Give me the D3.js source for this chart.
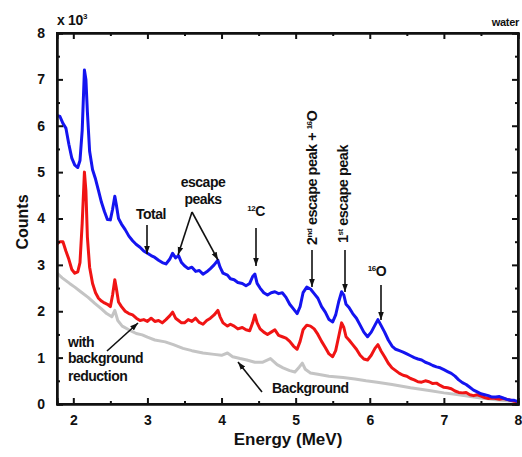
<!DOCTYPE html>
<html><head><meta charset="utf-8">
<script src="https://cdn.jsdelivr.net/npm/d3@7"></script>
<style>
html,body{margin:0;padding:0;background:#fff;}
svg text{font-family:"Liberation Sans",Arial,sans-serif;font-weight:bold;fill:#111;}
</style>
</head><body>
<svg id="chart" width="522" height="457"></svg>
<script>
// Energy (MeV) and counts (x10^3)
const totalE = [1.78,1.82,1.86,1.9,1.94,1.98,2.02,2.06,2.09,2.12,2.15,2.17,2.19,2.22,2.26,2.3,2.34,2.38,2.42,2.46,2.5,2.53,2.56,2.58,2.61,2.65,2.7,2.75,2.8,2.85,2.9,2.95,3.0,3.05,3.1,3.15,3.2,3.25,3.3,3.34,3.38,3.42,3.46,3.5,3.55,3.6,3.65,3.7,3.75,3.8,3.85,3.9,3.95,3.98,4.02,4.08,4.12,4.17,4.22,4.28,4.33,4.38,4.42,4.45,4.48,4.52,4.57,4.62,4.67,4.72,4.77,4.82,4.87,4.92,4.97,5.02,5.06,5.1,5.15,5.2,5.25,5.3,5.35,5.4,5.45,5.5,5.54,5.58,5.62,5.65,5.68,5.72,5.77,5.82,5.87,5.92,5.97,6.02,6.07,6.11,6.15,6.2,6.25,6.3,6.35,6.4,6.45,6.5,6.55,6.6,6.65,6.7,6.75,6.8,6.85,6.9,6.95,7.0,7.05,7.1,7.15,7.2,7.25,7.3,7.35,7.4,7.45,7.5,7.55,7.6,7.65,7.7,7.75,7.8,7.85,7.9,7.95,8.0];
const totalC = [6.22,6.2,6.05,5.95,5.6,5.3,5.15,5.1,5.25,5.9,7.2,7.0,6.3,5.45,5.05,4.85,4.6,4.35,4.15,3.98,3.97,4.2,4.48,4.3,4.0,3.88,3.76,3.62,3.52,3.44,3.38,3.3,3.25,3.2,3.16,3.1,3.05,3.02,3.12,3.25,3.15,3.2,3.05,2.98,2.92,2.95,2.86,2.88,2.8,2.85,2.92,3.0,3.1,2.95,2.82,2.78,2.7,2.68,2.62,2.6,2.55,2.6,2.75,2.8,2.6,2.5,2.4,2.35,2.4,2.42,2.38,2.4,2.3,2.15,2.05,1.95,2.1,2.4,2.52,2.48,2.38,2.28,2.1,1.98,1.82,1.77,1.92,2.2,2.42,2.35,2.15,2.08,1.95,1.85,1.7,1.55,1.45,1.55,1.7,1.82,1.7,1.55,1.38,1.25,1.18,1.15,1.12,1.08,1.04,1.0,0.97,0.95,0.9,0.87,0.83,0.8,0.78,0.74,0.7,0.66,0.6,0.52,0.46,0.42,0.36,0.3,0.26,0.22,0.2,0.18,0.15,0.15,0.16,0.13,0.1,0.08,0.08,0.05];
const reducedC = [3.45,3.5,3.5,3.3,3.12,2.9,2.82,2.85,3.05,3.9,5.0,4.6,3.6,2.95,2.6,2.4,2.28,2.22,2.18,2.15,2.1,2.35,2.68,2.5,2.2,2.1,2.0,1.95,1.92,1.85,1.8,1.82,1.78,1.85,1.78,1.8,1.75,1.82,1.9,1.98,1.85,1.8,1.75,1.75,1.82,1.78,1.85,1.76,1.72,1.8,1.85,1.92,2.02,1.88,1.75,1.68,1.72,1.68,1.62,1.65,1.6,1.58,1.75,1.92,1.75,1.62,1.55,1.5,1.55,1.6,1.48,1.45,1.42,1.35,1.25,1.18,1.35,1.6,1.7,1.68,1.62,1.5,1.35,1.22,1.08,1.02,1.15,1.45,1.75,1.65,1.45,1.38,1.28,1.18,1.05,0.97,0.95,1.05,1.2,1.28,1.15,1.02,0.88,0.78,0.72,0.66,0.62,0.6,0.55,0.52,0.48,0.47,0.5,0.48,0.44,0.45,0.4,0.36,0.35,0.33,0.28,0.25,0.24,0.25,0.2,0.18,0.2,0.17,0.14,0.12,0.13,0.12,0.1,0.12,0.1,0.08,0.06,0.05];
const bgE = [1.78,1.85,1.95,2.02,2.1,2.2,2.29,2.38,2.45,2.52,2.56,2.6,2.66,2.75,2.85,2.93,3.0,3.1,3.24,3.35,3.48,3.6,3.75,3.9,4.0,4.08,4.15,4.25,4.34,4.45,4.55,4.66,4.75,4.83,4.92,4.99,5.05,5.09,5.13,5.2,5.3,5.45,5.64,5.8,5.95,6.1,6.3,6.55,6.8,7.0,7.2,7.45,7.7,8.0];
const bgC = [2.82,2.72,2.6,2.52,2.42,2.3,2.17,2.05,1.95,1.88,2.02,1.8,1.68,1.6,1.52,1.49,1.44,1.38,1.34,1.28,1.2,1.15,1.1,1.07,1.05,1.1,1.02,0.98,0.95,0.9,0.9,0.98,0.85,0.78,0.72,0.69,0.8,0.88,0.75,0.67,0.64,0.6,0.57,0.54,0.5,0.47,0.42,0.35,0.29,0.24,0.2,0.14,0.09,0.05];
const xTicks = [2,3,4,5,6,7,8];
const yTicks = [0,1,2,3,4,5,6,7,8];

const svg = d3.select("#chart");
const m = {l:57, t:33, r:4, b:53};
const W = 522, H = 457;
const x = d3.scaleLinear().domain([1.78, 8]).range([m.l, W - m.r]);
const y = d3.scaleLinear().domain([0, 8]).range([H - m.b, m.t]);

const defs = svg.append("defs");
defs.append("marker").attr("id","arr").attr("viewBox","0 0 10 10").attr("refX",10).attr("refY",5)
  .attr("markerWidth",8).attr("markerHeight",8).attr("markerUnits","userSpaceOnUse").attr("orient","auto")
  .append("path").attr("d","M0,1.5 L10,5 L0,8.5 Z").attr("fill","#111");

const line = d3.line().x(d => x(d[0])).y(d => y(d[1]));
svg.append("path").datum(bgE.map((e,i)=>[e,bgC[i]])).attr("d",line)
  .attr("fill","none").attr("stroke","#c4c4c4").attr("stroke-width",3).attr("stroke-linejoin","round");
svg.append("path").datum(totalE.map((e,i)=>[e,reducedC[i]])).attr("d",line)
  .attr("fill","none").attr("stroke","#f01414").attr("stroke-width",3).attr("stroke-linejoin","round");
svg.append("path").datum(totalE.map((e,i)=>[e,totalC[i]])).attr("d",line)
  .attr("fill","none").attr("stroke","#1414f0").attr("stroke-width",3).attr("stroke-linejoin","round");

const minorX = d3.range(2, 8.01, 0.5).filter(v=>v%1);
const minorY = d3.range(0, 8.01, 0.5).filter(v=>v%1);
const gx = svg.append("g").attr("transform",`translate(0,${H-m.b})`)
  .call(d3.axisBottom(x).tickValues(xTicks).tickSize(-6).tickPadding(11).tickFormat(d3.format("d")));
const gxm = svg.append("g").attr("transform",`translate(0,${H-m.b})`)
  .call(d3.axisBottom(x).tickValues(minorX).tickSize(-3).tickFormat(""));
const gxt = svg.append("g").attr("transform",`translate(0,${m.t})`)
  .call(d3.axisTop(x).tickValues(xTicks).tickSize(-6).tickFormat(""));
const gxtm = svg.append("g").attr("transform",`translate(0,${m.t})`)
  .call(d3.axisTop(x).tickValues(minorX).tickSize(-3).tickFormat(""));
const gy = svg.append("g").attr("transform",`translate(${m.l},0)`)
  .call(d3.axisLeft(y).tickValues(yTicks).tickSize(-6).tickPadding(12).tickFormat(d3.format("d")));
const gym = svg.append("g").attr("transform",`translate(${m.l},0)`)
  .call(d3.axisLeft(y).tickValues(minorY).tickSize(-3).tickFormat(""));
const gyr = svg.append("g").attr("transform",`translate(${W-m.r},0)`)
  .call(d3.axisRight(y).tickValues(yTicks).tickSize(-6).tickFormat(""));
const gyrm = svg.append("g").attr("transform",`translate(${W-m.r},0)`)
  .call(d3.axisRight(y).tickValues(minorY).tickSize(-3).tickFormat(""));
[gx,gxm,gxt,gxtm,gy,gym,gyr,gyrm].forEach(g=>{
  g.selectAll(".domain").attr("stroke","#111").attr("stroke-width",2);
  g.selectAll(".tick line").attr("stroke","#111").attr("stroke-width",2);
  g.selectAll("text").style("font-family","Liberation Sans, Arial, sans-serif").style("font-weight","bold").style("font-size","14px").attr("fill","#111");
});
gx.selectAll("text").attr("dy","0.71em");
svg.append("rect").attr("x",m.l).attr("y",m.t).attr("width",W-m.l-m.r).attr("height",H-m.t-m.b)
  .attr("fill","none").attr("stroke","#111").attr("stroke-width",2);

// axis titles
svg.append("text").attr("x",288).attr("y",445).attr("text-anchor","middle").style("font-size","17px").text("Energy (MeV)");
svg.append("text").attr("transform",`translate(28,222) rotate(-90)`).attr("text-anchor","middle").style("font-size","16px").text("Counts");
const sc = svg.append("text").attr("x",57).attr("y",25).style("font-size","14px").style("letter-spacing","-0.3px");
sc.append("tspan").text("x 10");
sc.append("tspan").attr("dy",-6).style("font-size","8px").text("3");
svg.append("text").attr("x",519).attr("y",26).attr("text-anchor","end").style("font-size","11px").style("letter-spacing","-0.3px").text("water");

// annotations
const fs = "14px", ls = "-0.5px", sup = "8px";
function label(xp, yp, txt, anchor){
  return svg.append("text").attr("x",xp).attr("y",yp).attr("text-anchor",anchor||"start")
    .style("font-size",fs).style("letter-spacing",ls).text(txt);
}
function arrow(x1,y1,x2,y2){
  svg.append("line").attr("x1",x1).attr("y1",y1).attr("x2",x2).attr("y2",y2)
    .attr("stroke","#111").attr("stroke-width",1.6).attr("marker-end","url(#arr)");
}
label(151,219,"Total","middle");
arrow(147,225,147,254);
label(203,187,"escape","middle");
label(203,204,"peaks","middle");
arrow(192,212,178,255);
arrow(192,212,218,260);
const c12 = svg.append("text").attr("x",256).attr("y",216).attr("text-anchor","middle").style("font-size",fs).style("letter-spacing",ls);
c12.append("tspan").attr("dy",-5).style("font-size",sup).text("12");
c12.append("tspan").attr("dy",5).text("C");
arrow(256,228,256,266);
const rs = "14.5px";
const t2 = svg.append("text").attr("transform","translate(317,245) rotate(-90)").style("font-size",rs).style("letter-spacing",ls);
t2.append("tspan").text("2");
t2.append("tspan").attr("dy",-5).style("font-size",sup).text("nd");
t2.append("tspan").attr("dy",5).text(" escape peak + ");
t2.append("tspan").attr("dy",-5).style("font-size",sup).text("16");
t2.append("tspan").attr("dy",5).text("O");
arrow(312,250,312,287);
const t1 = svg.append("text").attr("transform","translate(348,243) rotate(-90)").style("font-size",rs).style("letter-spacing",ls);
t1.append("tspan").text("1");
t1.append("tspan").attr("dy",-5).style("font-size",sup).text("st");
t1.append("tspan").attr("dy",5).text(" escape peak");
arrow(345,250,345,292);
const o16 = svg.append("text").attr("x",377).attr("y",276).attr("text-anchor","middle").style("font-size",fs).style("letter-spacing",ls);
o16.append("tspan").attr("dy",-5).style("font-size",sup).text("16");
o16.append("tspan").attr("dy",5).text("O");
arrow(381,285,381,320);
label(68,347,"with");
label(68,363,"background");
label(68,381,"reduction");
arrow(107,351,138,323);
label(272,393,"Background");
arrow(262,392,238,362);
</script>
</body></html>
